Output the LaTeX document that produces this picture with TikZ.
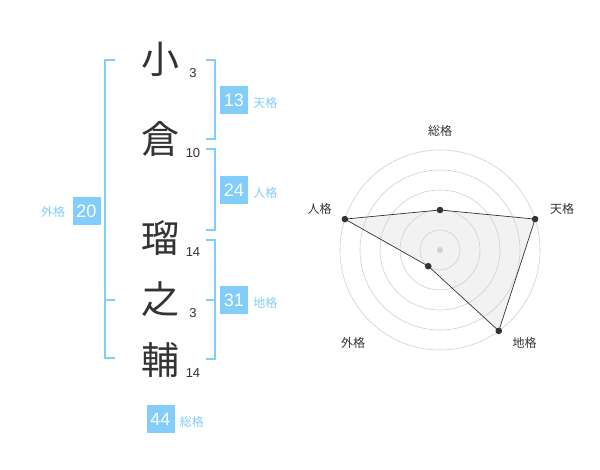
\documentclass[tikz,border=0pt]{standalone}
\usepackage{fontspec}
\setmainfont{Liberation Sans}
\newfontfamily\jp{Noto Sans CJK JP}
\usepackage{tikz}
\usetikzlibrary{positioning}
\definecolor{kakublue}{RGB}{130,205,250}
\definecolor{ink}{RGB}{51,51,51}
\definecolor{gridgray}{RGB}{208,208,208}
\definecolor{radarfill}{RGB}{242,242,242}
\tikzset{
  kanji/.style={anchor=base, inner sep=0pt, text=ink, font=\jp\fontsize{38}{38}\selectfont},
  strokes/.style={inner sep=0pt, text=ink, font=\fontsize{13}{13}\selectfont},
  kakubox/.style={fill=kakublue, text=white, minimum size=28pt, inner sep=0pt, font=\fontsize{18}{18}\selectfont},
  kakulabel/.style={inner sep=0pt, text=kakublue, font=\jp\fontsize{12}{12}\selectfont},
  bracket/.style={draw=kakublue, line width=1.5pt},
  axislabel/.style={inner sep=0pt, text=ink, font=\jp\fontsize{12}{12}\selectfont}
}
\begin{document}
\begin{tikzpicture}[x=1pt,y=-1pt]
    \useasboundingbox (0,0) rectangle (600,470);
        \foreach \n/\c/\y/\s in {c1/小/60/3, c2/倉/140/10, c3/瑠/239/14, c4/之/300/3, c5/輔/360/14} {
          \node[kanji] (\n) at (160,\y+14) {\c};
          \node[strokes] (s\n) at (193,\y+13) {\s};
        }
        \draw[bracket] (115,60) -- (105,60) -- (105,358) -- (115,358) (105,300) -- (115,300);
        \draw[bracket] (206,60) -- (215,60) -- (215,139) -- (206,139);
        \draw[bracket] (206,149) -- (215,149) -- (215,230) -- (206,230);
        \draw[bracket] (206,240) -- (215,240) -- (215,359) -- (206,359) (206,300) -- (215,300);
        \node[kakubox] (ten) at (234,100) {13};
        \node[kakulabel, right=5pt of ten, yshift=-3pt] (tenl) {天格};
        \node[kakubox] (jin) at (234,190) {24};
        \node[kakulabel, right=5pt of jin, yshift=-3pt] (jinl) {人格};
        \node[kakubox] (chi) at (234,300) {31};
        \node[kakulabel, right=5pt of chi, yshift=-3pt] (chil) {地格};
        \node[kakubox] (gai) at (86.5,211) {20};
        \node[kakulabel, left=7pt of gai, yshift=-1pt] (gail) {外格};
        \node[kakubox] (sou) at (160.5,419) {44};
        \node[kakulabel, right=5pt of sou, yshift=-3pt] (soul) {総格};
        \begin{scope}[shift={(440,250)}, y=1pt]
          \foreach \n/\a/\v in {rsou/90/2, rten/18/5, rchi/-54/5, rgai/-126/1, rjin/162/5} {
            \coordinate (\n) at (\a:\v*20);
          }
          \fill[radarfill] (rsou) -- (rten) -- (rchi) -- (rgai) -- (rjin) -- cycle;
          \foreach \r in {20,40,...,100} {
            \draw[gridgray, line width=0.6pt] (0,0) circle (\r pt);
          }
          \draw[ink, line width=0.7pt] (rsou) -- (rten) -- (rchi) -- (rgai) -- (rjin) -- cycle;
          \fill[gridgray] (0,0) circle (3pt);
          \foreach \n in {rsou,rten,rchi,rgai,rjin} {
            \fill[ink] (\n) circle (3.3pt);
          }
          \foreach \n/\p/\t in {lsou/{(0,119)}/総格, lten/{(122,41.5)}/天格, lchi/{(84.5,-92.5)}/地格, lgai/{(-87,-92.5)}/外格, ljin/{(-120.5,41.5)}/人格} {
            \node[axislabel] (\n) at \p {\t};
          }
        \end{scope}
    \end{tikzpicture}
\end{document}
